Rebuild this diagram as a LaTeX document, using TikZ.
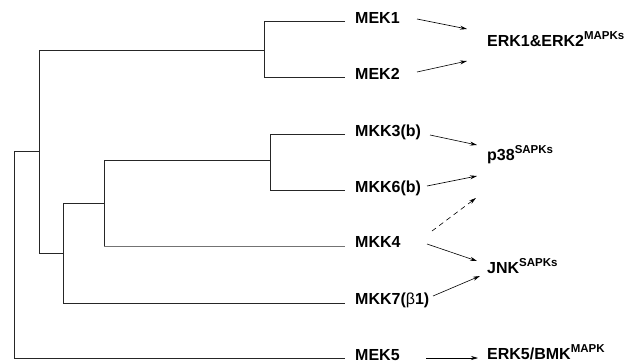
\documentclass[tikz,border=0pt]{standalone}
\usepackage{fontspec}
\setmainfont{Liberation Sans}
\usetikzlibrary{arrows.meta}
\tikzset{
  tree/.style={line width=0.8pt, draw=black!85},
  faint/.style={line width=0.6pt, draw=black!55},
  lbl/.style={anchor=base west, inner sep=0pt, font=\fontsize{16}{19}\selectfont\bfseries},
  arr/.style={line width=0.6pt, -{Stealth[length=7pt,width=4pt]}},
  darr/.style={arr, dash pattern=on 5pt off 4pt}
}
\newcommand{\supx}[1]{\raisebox{6.5pt}{\fontsize{11.5}{13}\selectfont\bfseries #1}}
\begin{document}
\begin{tikzpicture}[x=1pt,y=-1pt]
\useasboundingbox (0,0) rectangle (641,362);
% dendrogram
\draw[tree] (39,151) -- (14,151) -- (14,358) -- (345,358);
\draw[tree] (39,50) -- (39,253);
\draw[tree] (39,50) -- (264,50);
\draw[tree] (345,21) -- (264,21) -- (264,77) -- (345,77);
\draw[tree] (39,253) -- (63,253);
\draw[tree] (63,203) -- (63,303) -- (345,303);
\draw[tree] (63,203) -- (104,203);
\draw[tree] (104,160) -- (104,246);
\draw[faint] (104,246) -- (345,246);
\draw[tree] (104,160) -- (270,160);
\draw[tree] (345,134) -- (270,134) -- (270,190) -- (345,190);
% labels
\node[lbl] (mek1) at (355,23) {MEK1};
\node[lbl] (mek2) at (355,79) {MEK2};
\node[lbl] (mkk3) at (355,136) {MKK3(b)};
\node[lbl] (mkk6) at (355,192) {MKK6(b)};
\node[lbl] (mkk4) at (355,247) {MKK4};
\node[lbl] (mkk7) at (355,304) {MKK7(\textmd{β}1)};
\node[lbl] (mek5) at (355,360) {MEK5};
\node[lbl] (erk) at (487,46) {ERK1\&ERK2\supx{MAPKs}};
\node[lbl] (p38) at (487,160) {p38\supx{SAPKs}};
\node[lbl] (jnk) at (487,273) {JNK\supx{SAPKs}};
\node[lbl] (erk5) at (487,359) {ERK5/BMK\supx{MAPK}};
% arrow endpoints
\coordinate (a1s) at (417,19);  \coordinate (a1e) at (467,29);
\coordinate (a2s) at (417,72);  \coordinate (a2e) at (467,61);
\coordinate (a3s) at (430,135); \coordinate (a3e) at (477,145);
\coordinate (a4s) at (427,186); \coordinate (a4e) at (477,176);
\coordinate (a5s) at (432,231); \coordinate (a5e) at (476,198);
\coordinate (a6s) at (427,244); \coordinate (a6e) at (477,261);
\coordinate (a7s) at (433,296); \coordinate (a7e) at (480,276);
\coordinate (a8s) at (426,358); \coordinate (a8e) at (478,358);
\draw[arr] (a1s) -- (a1e);
\draw[arr] (a2s) -- (a2e);
\draw[arr] (a3s) -- (a3e);
\draw[arr] (a4s) -- (a4e);
\draw[darr] (a5s) -- (a5e);
\draw[arr] (a6s) -- (a6e);
\draw[arr] (a7s) -- (a7e);
\draw[arr] (a8s) -- (a8e);
\end{tikzpicture}
\end{document}
